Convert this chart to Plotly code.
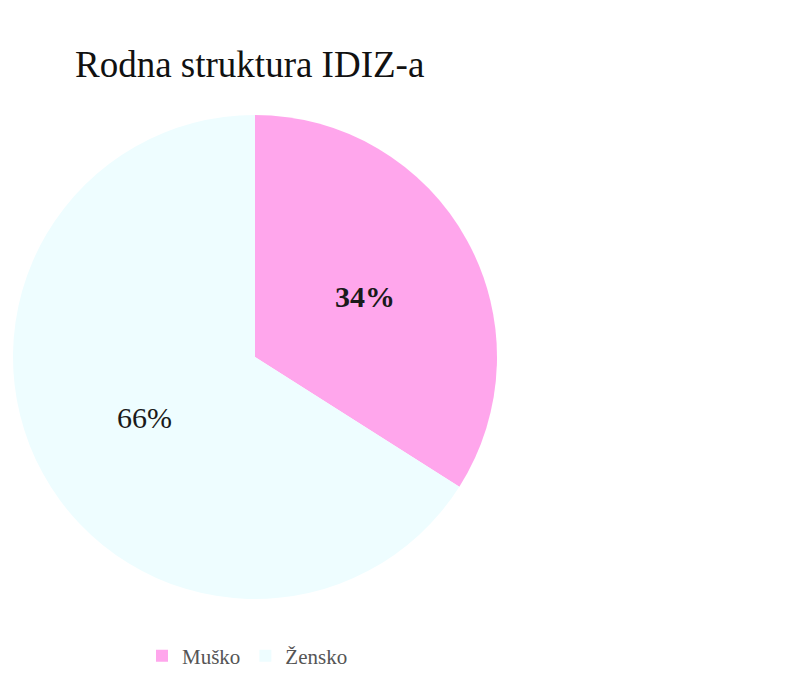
import plotly.graph_objects as go
import math

labels = ["Muško", "Žensko"]
values = [34, 66]
colors = ["#FFA6EC", "#EEFDFF"]
label_bold = [True, False]

W, H = 805, 681
OFF = 8  # page body margin offset
cx, cy, R = 255 - OFF, 357 - OFF, 242

fig = go.Figure(go.Pie(
    labels=labels, values=values, sort=False, direction="clockwise", rotation=0,
    marker=dict(colors=colors, line=dict(width=0)),
    textinfo="none", hoverinfo="label+percent",
    domain=dict(x=[(cx - R) / W, (cx + R) / W], y=[1 - (cy + R) / H, 1 - (cy - R) / H]),
))

total = sum(values)
acc = 0
anns = []
for v, b in zip(values, label_bold):
    mid = (acc + v / 2) / total * 2 * math.pi
    acc += v
    rr = 0.52 * R
    px = cx + rr * math.sin(mid)
    py = cy - rr * math.cos(mid)
    pct = round(v / total * 100)
    txt = f"<b>{pct}%</b>" if b else f"{pct}%"
    anns.append(dict(x=px / W, y=1 - py / H, xref="paper", yref="paper", text=txt,
                     xanchor="center", yanchor="middle", showarrow=False,
                     font=dict(family="Liberation Serif, DejaVu Serif, serif", size=30, color="#1a1a1a")))

fig.update_layout(
    width=W, height=H,
    margin=dict(l=0, r=0, t=0, b=0),
    paper_bgcolor="white", plot_bgcolor="white",
    title=dict(text="Rodna struktura IDIZ-a", x=(75 - OFF) / W, xanchor="left", y=1 - (64 - OFF) / H, yanchor="middle",
               font=dict(family="Liberation Serif, DejaVu Serif, serif", size=37, color="#111111")),
    showlegend=True,
    legend=dict(orientation="h", x=(142 - OFF) / W, xanchor="left", y=1 - (656 - OFF) / H, yanchor="middle",
                font=dict(family="Liberation Serif, DejaVu Serif, serif", size=21, color="#555555"),
                traceorder="normal"),
    annotations=anns,
)

fig.write_html("out.html")
